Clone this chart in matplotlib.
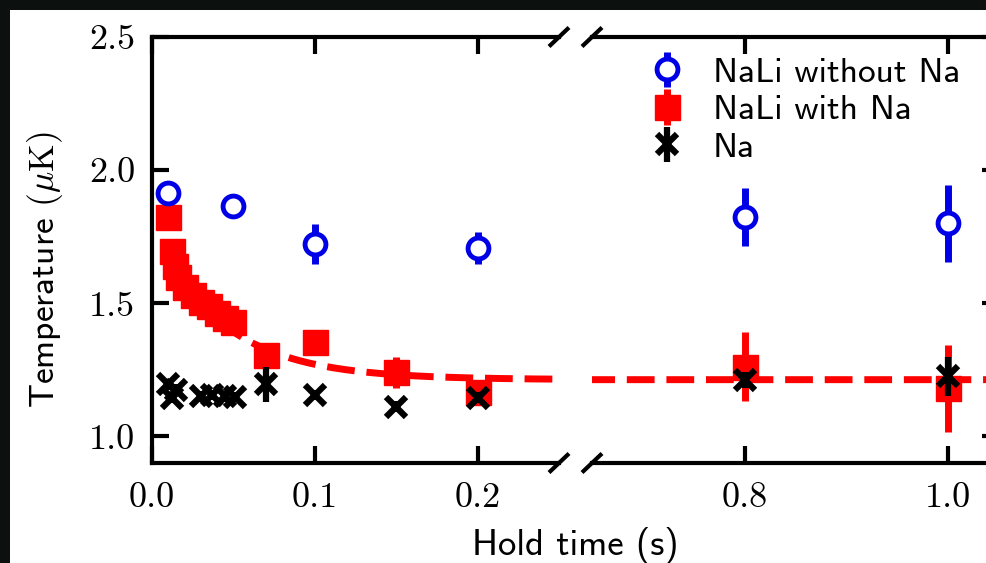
import matplotlib
matplotlib.use("Agg")
import matplotlib.pyplot as plt
import numpy as np
from matplotlib.patches import Rectangle

plt.rcParams["mathtext.fontset"] = "cm"

# NaLi without Na (blue open circles)
t_blue = [0.01, 0.05, 0.10, 0.20, 0.80, 1.00]
T_blue = [1.914, 1.865, 1.723, 1.708, 1.824, 1.800]
e_blue = [0.02, 0.02, 0.075, 0.06, 0.11, 0.145]

# NaLi with Na (red squares)
t_red = [0.010, 0.012, 0.014, 0.016, 0.020, 0.025, 0.030, 0.035, 0.040,
         0.045, 0.050, 0.070, 0.100, 0.150, 0.200, 0.800, 1.000]
T_red = [1.824, 1.695, 1.640, 1.600, 1.560, 1.530, 1.505, 1.490, 1.465,
         1.445, 1.430, 1.307, 1.356, 1.240, 1.165, 1.262, 1.180]
e_red = [0.02, 0.03, 0.02, 0.02, 0.02, 0.02, 0.02, 0.02, 0.02,
         0.02, 0.02, 0.02, 0.02, 0.06, 0.04, 0.13, 0.165]

# Na (black crosses)
t_na = [0.010, 0.012, 0.015, 0.030, 0.037, 0.045, 0.051, 0.070, 0.100,
        0.150, 0.200, 0.800, 1.000]
T_na = [1.195, 1.145, 1.175, 1.150, 1.155, 1.150, 1.148, 1.195, 1.155,
        1.112, 1.146, 1.212, 1.225]
e_na = [0.02, 0.02, 0.02, 0.02, 0.02, 0.02, 0.02, 0.065, 0.02,
        0.02, 0.02, 0.03, 0.075]

# exponential fit to NaLi with Na
fit_offset = 1.213
fit_amp = 0.56
fit_tau = 0.044
fit_start = 0.01

y_ticks = [1.0, 1.5, 2.0, 2.5]
y_ticklabels = ["1.0", "1.5", "2.0", "2.5"]
xL_ticks = [0.0, 0.1, 0.2]
xL_ticklabels = ["0.0", "0.1", "0.2"]
xR_ticks = [0.8, 1.0]
xR_ticklabels = ["0.8", "1.0"]

W, H = 987, 563
fig = plt.figure(figsize=(W / 100, H / 100), dpi=100)
fig.patch.set_facecolor("#0c100e")
fig.add_artist(Rectangle((10 / W, 0), 1, 553 / H, transform=fig.transFigure,
                         facecolor="white", edgecolor="none", zorder=-10))

axL = fig.add_axes([152 / W, 100 / H, 407 / W, 426 / H])
axR = fig.add_axes([592 / W, 100 / H, 407 / W, 426 / H])

t_fit = np.linspace(fit_start, 1.06, 600)
T_fit = fit_offset + fit_amp * np.exp(-t_fit / fit_tau)

handles = []
for ax in (axL, axR):
    ax.plot(t_fit, T_fit, color="#ff0000", lw=5, dashes=(4, 1.7),
            dash_capstyle="butt", zorder=1)
    hr = ax.errorbar(t_red, T_red, yerr=e_red, fmt="s", color="#ff0000",
                     ms=18, elinewidth=5, capsize=0, zorder=2)
    hk = ax.errorbar(t_na, T_na, yerr=e_na, fmt="x", color="black",
                     ms=14, mew=4.5, elinewidth=4.5, capsize=0, zorder=3)
    hb = ax.errorbar(t_blue, T_blue, yerr=e_blue, fmt="o", color="#0000e6",
                     mfc="white", mec="#0000e6", ms=15, mew=3.5,
                     elinewidth=5, capsize=0, zorder=4)
    handles = [hb, hr, hk]

    ax.set_ylim(0.9, 2.5)
    ax.set_yticks(y_ticks)
    ax.set_facecolor("none")
    for s in ax.spines.values():
        s.set_linewidth(3)
    ax.tick_params(direction="in", length=12, width=3, pad=12)

axL.set_xlim(0, 0.25)
axR.set_xlim(0.65, 1.05)

axL.spines["right"].set_visible(False)
axR.spines["left"].set_visible(False)

axL.set_xticks(xL_ticks)
axL.set_xticklabels(xL_ticklabels, family="cmr10", fontsize=26)
axL.set_yticklabels(y_ticklabels, family="cmr10", fontsize=26)
axL.tick_params(top=True, right=False, left=True)
axL.tick_params(axis="x", pad=14)

axR.set_xticks(xR_ticks)
axR.set_xticklabels(xR_ticklabels, family="cmr10", fontsize=26)
axR.tick_params(top=True, left=False, right=True, labelleft=False)
axR.tick_params(axis="x", pad=14)

# break marks
dx, dy = 10 / 407, 9.5 / 426
kw = dict(color="black", lw=3, clip_on=False, solid_capstyle="butt")
for yy in (0, 1):
    axL.plot([1 - dx, 1 + dx], [yy - dy, yy + dy], transform=axL.transAxes, **kw)
    axR.plot([-dx, dx], [yy - dy, yy + dy], transform=axR.transAxes, **kw)

fig.text(45 / W, 1 - 270 / H, r"Temperature $(\mu\mathrm{K})$", rotation=90,
         ha="center", va="center", family="cmss10", fontsize=25.5)
fig.text(575 / W, 1 - 545 / H, "Hold time (s)", ha="center", va="center",
         family="cmss10", fontsize=26.5)

fig.legend(handles, ["NaLi without Na", "NaLi with Na", "Na"],
           loc="upper left", bbox_to_anchor=(649 / W, 1 - 57 / H),
           frameon=False, prop={"family": "cmss10", "size": 25.5},
           handlelength=1.0, handletextpad=0.8, labelspacing=0.16,
           borderpad=0, borderaxespad=0)

fig.savefig("out.png", dpi=100, facecolor=fig.get_facecolor())
